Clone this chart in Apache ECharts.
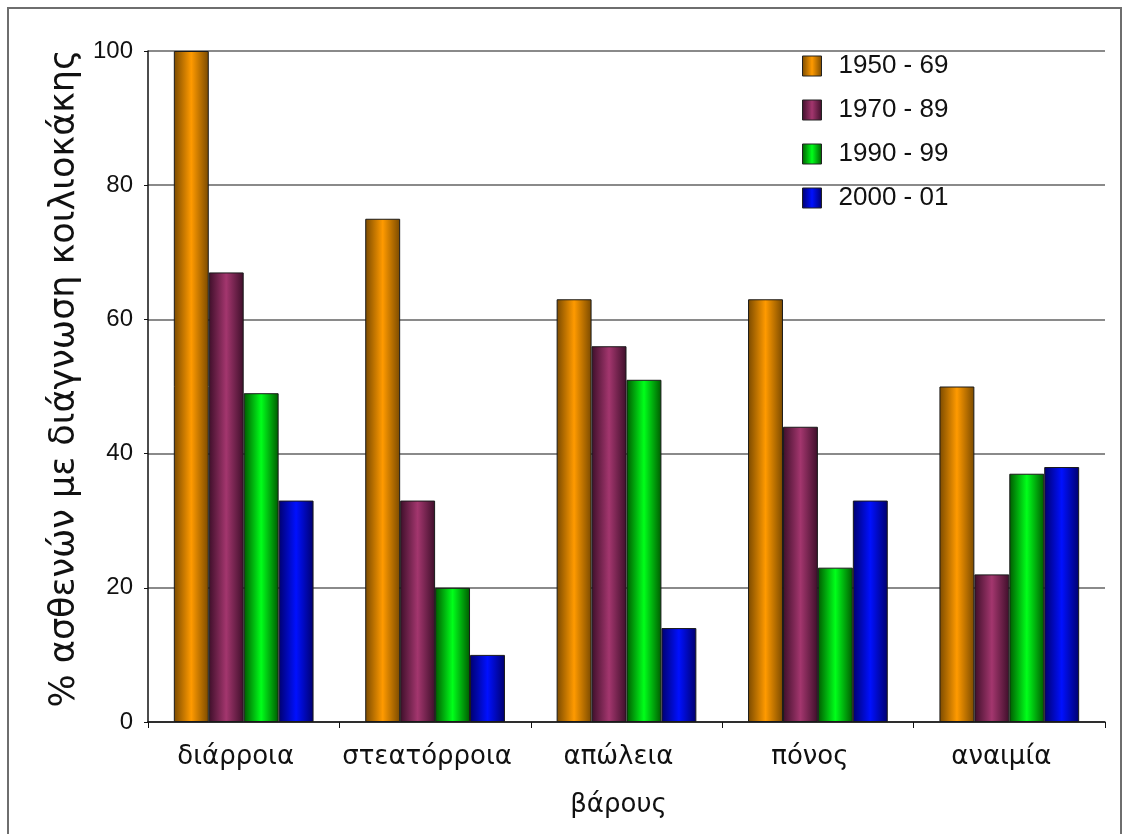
<!DOCTYPE html>
<html>
<head>
<meta charset="utf-8">
<script src="https://cdn.jsdelivr.net/npm/echarts@6/dist/echarts.min.js"></script>
<style>
html,body{margin:0;padding:0;background:#fff;}
#chart{width:1129px;height:834px;}
</style>
</head>
<body>
<div id="chart"></div>
<script>
const categories = ['διάρροια', 'στεατόρροια', 'απώλεια\nβάρους', 'πόνος', 'αναιμία'];
const seriesNames = ['1950 - 69', '1970 - 89', '1990 - 99', '2000 - 01'];
const s1950 = [100, 75, 63, 63, 50];
const s1970 = [67, 33, 56, 44, 22];
const s1990 = [49, 20, 51, 23, 37];
const s2000 = [33, 10, 14, 33, 38];
const yTicks = [0, 20, 40, 60, 80, 100];
const yAxisTitle = '% ασθενών με διάγνωση κοιλιοκάκης';

const palettes = [
  ['#7a4a00', '#ff9a00'],
  ['#3e0f2a', '#a3366e'],
  ['#005a00', '#00ff1a'],
  ['#00006e', '#0010ff']
];
function grad(p) {
  return new echarts.graphic.LinearGradient(0, 0, 1, 0, [
    {offset: 0, color: p[0]},
    {offset: 0.5, color: p[1]},
    {offset: 1, color: p[0]}
  ]);
}
const allData = [s1950, s1970, s1990, s2000];

const chart = echarts.init(document.getElementById('chart'));
chart.setOption({
  backgroundColor: '#fff',
  animation: false,
  graphic: [{
    type: 'rect',
    shape: {x: 8, y: 8, width: 1113, height: 830},
    style: {fill: 'none', stroke: '#6e6e6e', lineWidth: 2},
    silent: true,
    z: -1
  }],
  grid: {left: 148, right: 24, top: 51, bottom: 112},
  legend: {
    orient: 'vertical',
    left: 797,
    top: 48,
    itemWidth: 19,
    itemHeight: 20,
    itemGap: 18,
    icon: 'rect',
    data: seriesNames,
    textStyle: {fontFamily: 'Liberation Sans', fontSize: 26, color: '#111', padding: [0, 0, 0, 12]},
    itemStyle: {borderColor: '#222', borderWidth: 1}
  },
  xAxis: {
    type: 'category',
    data: categories,
    axisLine: {lineStyle: {color: '#111', width: 1.5}},
    axisTick: {show: true, length: 6, lineStyle: {color: '#111'}},
    axisLabel: {
      interval: 0,
      fontFamily: 'DejaVu Sans',
      fontSize: 26,
      color: '#111',
      lineHeight: 48,
      margin: 11,
      padding: [0, 16, 0, 0]
    }
  },
  yAxis: {
    type: 'value',
    min: 0,
    max: 100,
    interval: 20,
    name: yAxisTitle,
    nameLocation: 'middle',
    nameRotate: 90,
    nameGap: 62,
    nameTextStyle: {fontFamily: 'DejaVu Sans', fontSize: 35, color: '#111', padding: [0, 0, 0, 16]},
    axisLine: {show: true, lineStyle: {color: '#111', width: 1.5}},
    axisTick: {show: true, length: 4, lineStyle: {color: '#111'}},
    axisLabel: {
      fontFamily: 'Liberation Sans',
      fontSize: 24,
      color: '#111',
      margin: 15,
      formatter: function (v) { return yTicks.indexOf(v) >= 0 ? String(v) : ''; }
    },
    splitLine: {show: true, lineStyle: {color: '#8a8a8a', width: 2}}
  },
  series: seriesNames.map(function (name, i) {
    return {
      name: name,
      type: 'bar',
      data: allData[i],
      barGap: '0%',
      barCategoryGap: '27%',
      itemStyle: {color: grad(palettes[i]), borderColor: '#1a1a1a', borderWidth: 1}
    };
  })
});
</script>
</body>
</html>
